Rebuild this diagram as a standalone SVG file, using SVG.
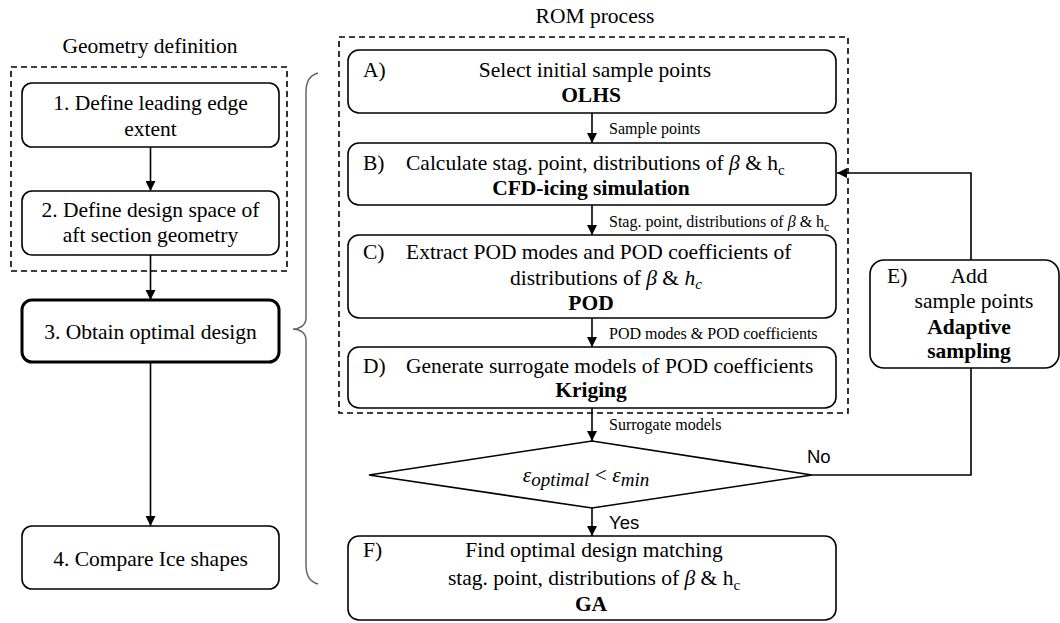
<svg xmlns="http://www.w3.org/2000/svg" width="1060" height="623" viewBox="0 0 1060 623">
<defs>
<marker id="ah" viewBox="0 0 10 10" refX="10" refY="5" markerWidth="10" markerHeight="10" markerUnits="userSpaceOnUse" orient="auto">
<path d="M0,0 L10,5 L0,10 Z" fill="#000"/>
</marker>
<style>
.t{font-family:"Liberation Serif","Times New Roman",serif;font-size:21.5px;fill:#000}
.b{font-weight:bold}
.s{font-family:"Liberation Serif","Times New Roman",serif;font-size:16px;fill:#000}
.a{font-family:"Liberation Sans",Arial,sans-serif;font-size:18.5px;fill:#000}
.m{text-anchor:middle}
.box{fill:#fff;stroke:#000;stroke-width:1.6}
.thick{stroke-width:3}
.dash{fill:none;stroke:#000;stroke-width:1.6;stroke-dasharray:6 4}
.ln{fill:none;stroke:#000;stroke-width:1.6}
.i{font-style:italic}
</style>
</defs>
<rect width="1060" height="623" fill="#fff"/>

<text class="t m" x="150" y="53">Geometry definition</text>
<text class="t m" x="595" y="23">ROM process</text>

<rect class="dash" x="11" y="67" width="276" height="204"/>
<rect class="dash" x="339" y="37" width="509" height="376"/>

<path d="M318,73 C310,75 306,82 306,92 L306,318 C306,325 300,329 293,329 C300,329 306,333 306,340 L306,565 C306,576 310,582 318,584" fill="none" stroke="#666" stroke-width="1.5"/>

<g id="connectors">
<line class="ln" x1="150.5" y1="147" x2="150.5" y2="191" marker-end="url(#ah)"/>
<line class="ln" x1="150.5" y1="255" x2="150.5" y2="300" marker-end="url(#ah)"/>
<line class="ln" x1="150.5" y1="362" x2="150.5" y2="526" marker-end="url(#ah)"/>
<line class="ln" x1="592" y1="113" x2="592" y2="143" marker-end="url(#ah)"/>
<line class="ln" x1="592" y1="205" x2="592" y2="235" marker-end="url(#ah)"/>
<line class="ln" x1="592" y1="318" x2="592" y2="347" marker-end="url(#ah)"/>
<line class="ln" x1="592" y1="408" x2="592" y2="441" marker-end="url(#ah)"/>
<line class="ln" x1="592" y1="508" x2="592" y2="536" marker-end="url(#ah)"/>
<polyline class="ln" points="812,475 971,475 971,173 837,173" marker-end="url(#ah)"/>
<text class="s" x="609" y="134">Sample points</text>
<text class="s" x="609" y="227">Stag. point, distributions of <tspan class="i">β</tspan> &amp; h<tspan font-size="12" dy="4">c</tspan></text>
<text class="s" x="609" y="339">POD modes &amp; POD coefficients</text>
<text class="s" x="609" y="430">Surrogate models</text>
<text class="a" x="807" y="463">No</text>
<text class="a" x="609" y="529" font-size="18">Yes</text>
</g>

<g id="n1">
<rect class="box" x="22" y="83" width="257" height="64" rx="10"/>
<text class="t m" x="150.5" y="110">1. Define leading edge</text>
<text class="t m" x="150.5" y="136">extent</text>
</g>
<g id="n2">
<rect class="box" x="22" y="191" width="257" height="64" rx="10"/>
<text class="t m" x="150.5" y="217">2. Define design space of</text>
<text class="t m" x="150.5" y="242">aft section geometry</text>
</g>
<g id="n3">
<rect class="box thick" x="22" y="300" width="257" height="62" rx="10"/>
<text class="t m" x="150.5" y="339">3. Obtain optimal design</text>
</g>
<g id="n4">
<rect class="box" x="22" y="526" width="257" height="63" rx="10"/>
<text class="t m" x="150.5" y="566">4. Compare Ice shapes</text>
</g>

<g id="nA">
<rect class="box" x="348" y="50" width="488" height="63" rx="11"/>
<text class="t" x="363" y="77">A)</text>
<text class="t m" x="595" y="77">Select initial sample points</text>
<text class="t b m" x="591" y="102">OLHS</text>
</g>
<g id="nB">
<rect class="box" x="348" y="143" width="488" height="62" rx="11"/>
<text class="t" x="363" y="170">B)</text>
<text class="t" x="406" y="170">Calculate stag. point, distributions of <tspan class="i">β</tspan> &amp; h<tspan font-size="15" dy="5">c</tspan></text>
<text class="t b m" x="591" y="195">CFD-icing simulation</text>
</g>
<g id="nC">
<rect class="box" x="348" y="235" width="488" height="83" rx="11"/>
<text class="t" x="363" y="259">C)</text>
<text class="t" x="406" y="259">Extract POD modes and POD coefficients of</text>
<text class="t" x="510" y="285">distributions of <tspan class="i">β</tspan> &amp; <tspan class="i">h</tspan><tspan class="i" font-size="15" dy="4">c</tspan></text>
<text class="t b m" x="591" y="310">POD</text>
</g>
<g id="nD">
<rect class="box" x="348" y="347" width="488" height="61" rx="11"/>
<text class="t" x="363" y="373">D)</text>
<text class="t" x="406" y="373">Generate surrogate models of POD coefficients</text>
<text class="t b m" x="591" y="397">Kriging</text>
</g>
<g id="nDec">
<polygon points="592,441 812,475 592,508 369,475" fill="#fff" stroke="#000" stroke-width="1.6"/>
<text class="t i m" x="586" y="482" font-size="23">ε<tspan font-size="19" dy="4">optimal</tspan><tspan font-style="normal" dy="-4"> &lt; </tspan>ε<tspan font-size="19" dy="4">min</tspan></text>
</g>
<g id="nE">
<rect class="box" x="870" y="260" width="189" height="108" rx="14"/>
<text class="t" x="887" y="283">E)</text>
<text class="t m" x="969" y="283">Add</text>
<text class="t m" x="974" y="308">sample points</text>
<text class="t b m" x="969" y="334">Adaptive</text>
<text class="t b m" x="969" y="358">sampling</text>
</g>
<g id="nF">
<rect class="box" x="348" y="536" width="488" height="84" rx="11"/>
<text class="t" x="363" y="557">F)</text>
<text class="t m" x="594" y="557">Find optimal design matching</text>
<text class="t m" x="594" y="585">stag. point, distributions of <tspan class="i">β</tspan> &amp; h<tspan font-size="15" dy="5">c</tspan></text>
<text class="t b m" x="591" y="611">GA</text>
</g>
</svg>
